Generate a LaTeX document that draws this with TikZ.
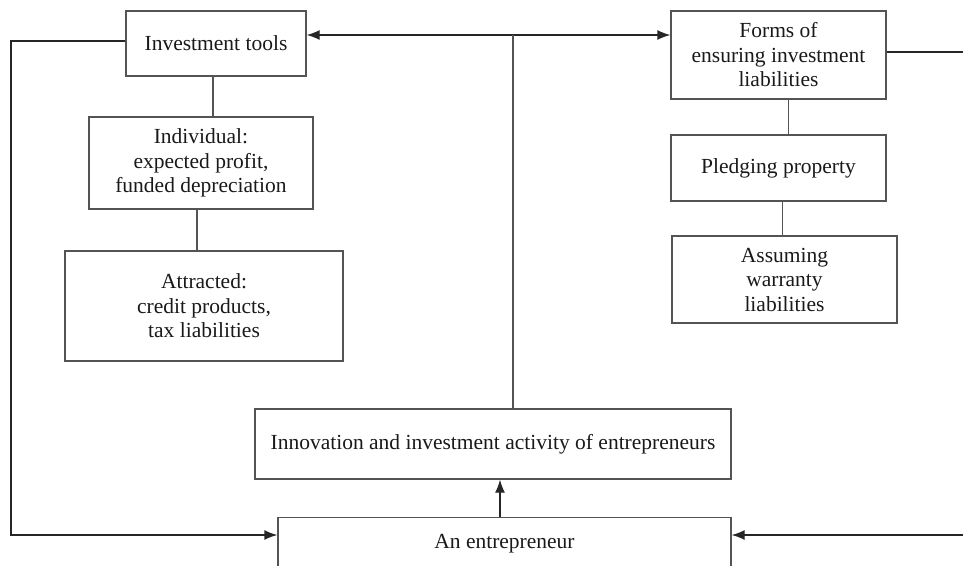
\documentclass[tikz,border=0pt]{standalone}
\usepackage{fontspec}
\setmainfont{Liberation Serif}
\usetikzlibrary{arrows.meta,positioning}
\definecolor{BoxGray}{rgb}{0.33,0.33,0.33}
\tikzset{
	rbox/.style={
		draw=BoxGray,line width=1.3pt,align=center,inner sep=0pt,
		text=black!90},
	link/.style={draw=BoxGray,line width=1.3pt},
	tip/.tip={Latex[length=13pt,width=10pt]},
	arr/.style={link,draw=black!85,-tip}
}
\begin{document}
\begin{tikzpicture}[x=1pt,y=-1pt,font=\fontsize{21.5}{24.5}\selectfont]
			\useasboundingbox (0,0) rectangle (963,565);
			% left column
			\node[rbox,minimum width=180,minimum height=65] (tools) at (216,43.5) {Investment tools};
			\node[rbox,minimum width=224,minimum height=92] (indiv) at (201,163) {Individual:\\ expected profit,\\ funded depreciation};
			\node[rbox,minimum width=278,minimum height=110] (attr) at (204,306) {Attracted:\\ credit products,\\ tax liabilities};
			% right column
			\node[rbox,minimum width=215,minimum height=88] (forms) at (778.5,55) {Forms of\\ ensuring investment\\ liabilities};
			\node[rbox,minimum width=215,minimum height=66] (pledge) at (778.5,168) {Pledging property};
			\node[rbox,minimum width=225,minimum height=87] (assume) at (784.5,279.5) {Assuming\\ warranty\\ liabilities};
			% bottom
			\node[rbox,minimum width=476,minimum height=70] (innov) at (493,444) {Innovation and investment activity of entrepreneurs};
			\node[rbox,minimum width=453,minimum height=52,anchor=north] (entre) at (504.5,517) {An entrepreneur};
			\coordinate (top) at (513,35);
			\coordinate (lc) at (11,535);
			\coordinate (rc) at (967,535);
			\draw[arr,tip-tip] (tools.east |- top) -- (forms.west |- top);
			\draw[link] (top) -- (innov.north -| top);
			\draw[link] ([xshift=-3pt]tools.south) -- ([xshift=-3pt]tools.south |- indiv.north);
			\draw[link] ([xshift=-4pt]indiv.south) -- ([xshift=-4pt]indiv.south |- attr.north);
			\draw[link] ([xshift=10pt]forms.south) -- ([xshift=10pt]forms.south |- pledge.north);
			\draw[link] ([xshift=4pt]pledge.south) -- ([xshift=4pt]pledge.south |- assume.north);
			\draw[arr] ([xshift=-4.5pt]entre.north) -- ([xshift=-4.5pt]entre.north |- innov.south);
			\draw[arr] ([yshift=2.5pt]tools.west) -| (lc) -- (entre.west |- lc);
			\draw[arr] ([yshift=3pt]forms.east) -| (rc) -- (entre.east |- rc);
\end{tikzpicture}
\end{document}
